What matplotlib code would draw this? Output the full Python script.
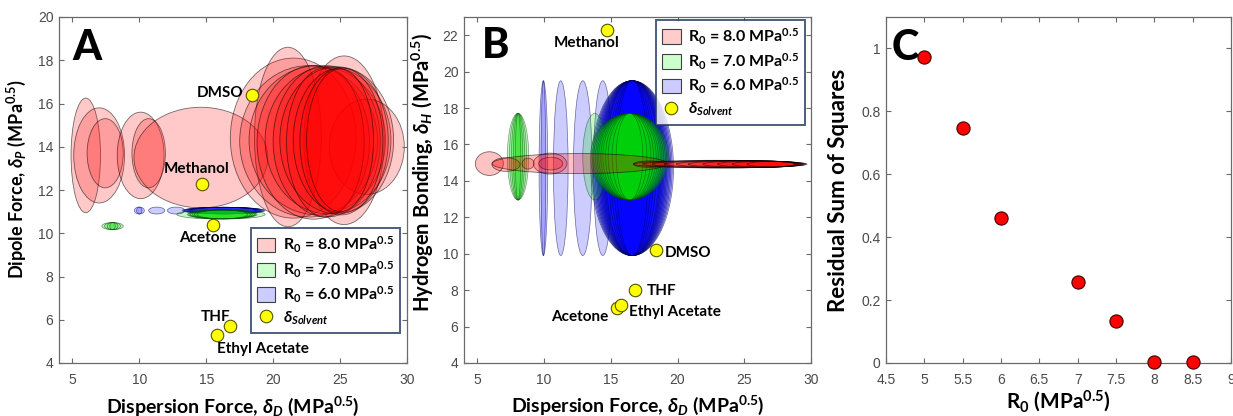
import matplotlib
matplotlib.use("Agg")
import matplotlib.pyplot as plt
from matplotlib.patches import Ellipse, Patch
from matplotlib.lines import Line2D
from matplotlib.ticker import FuncFormatter

plt.rcParams['font.family'] = ['Lato', 'DejaVu Sans']
plt.rcParams['mathtext.fontset'] = 'custom'
plt.rcParams['mathtext.rm'] = 'Lato:bold'
plt.rcParams['mathtext.bf'] = 'Lato:bold'
plt.rcParams['mathtext.it'] = 'Lato:bold:italic'

# ---------------- data ----------------
solvents = ['Methanol', 'DMSO', 'Acetone', 'THF', 'Ethyl Acetate']
sol_dD = [14.7, 18.4, 15.5, 16.8, 15.8]
sol_dP = [12.3, 16.4, 10.4, 5.7, 5.3]
sol_dH = [22.3, 10.2, 7.0, 8.0, 7.2]

# Panel A ellipses (center dD, center dP, width, height)
A_red_x = [6.0, 7.0, 7.45, 10.1, 10.7, 14.6, 21.5, 21.1, 25.3, 27.0,
           22.65, 23.3, 23.0, 24.1, 24.0, 24.75, 23.9, 25.05, 25.1, 25.0]
A_red_y = [13.6, 13.6, 13.7, 13.6, 13.7, 13.5, 14.4, 14.45, 14.3, 14.0,
           14.25, 14.3, 14.2, 14.3, 14.25, 14.3, 14.2, 14.3, 14.25, 14.3]
A_red_w = [2.2, 3.8, 2.7, 3.5, 2.5, 10.0, 9.4, 5.0, 6.0, 5.6,
           10.3, 10.2, 8.4, 9.4, 8.0, 8.5, 5.8, 7.1, 6.2, 5.0]
A_red_h = [5.3, 4.4, 3.2, 4.0, 3.2, 4.65, 7.4, 8.3, 7.8, 4.4,
           7.0, 6.9, 7.1, 6.8, 7.0, 6.8, 6.9, 6.7, 6.8, 6.6]

A_grn_x = [8.0, 8.0, 8.0, 8.0, 16.1, 16.2, 16.2, 16.2, 16.2, 16.2, 16.2]
A_grn_y = [10.33, 10.33, 10.33, 10.33, 10.87, 10.87, 10.87, 10.87, 10.87, 10.87, 10.87]
A_grn_w = [1.6, 1.2, 0.8, 0.4, 6.6, 5.2, 5.0, 4.8, 4.5, 4.2, 3.8]
A_grn_h = [0.33, 0.33, 0.33, 0.33, 0.43, 0.4, 0.4, 0.4, 0.4, 0.4, 0.4]

A_blu_x = [10.0, 10.0, 11.3, 12.75, 16.3, 16.3, 16.3, 16.3, 16.3, 16.3, 16.3, 16.3]
A_blu_y = [11.05, 11.05, 11.05, 11.05, 11.05, 11.05, 11.05, 11.05, 11.05, 11.05, 11.05, 11.05]
A_blu_w = [0.75, 0.4, 1.2, 1.3, 6.2, 6.0, 5.8, 5.6, 5.4, 5.2, 5.0, 4.8]
A_blu_h = [0.32, 0.32, 0.32, 0.32, 0.3, 0.3, 0.3, 0.3, 0.3, 0.3, 0.3, 0.3]

# Panel B ellipses (center dD, center dH, width, height)
B_red_x = [5.9, 7.15, 8.8, 10.45, 10.5, 12.65, 17.9, 23.2, 23.5, 23.8, 24.2, 24.6, 25.0, 25.5, 26.0, 26.5, 27.0]
B_red_y = [14.95, 14.9, 14.95, 14.95, 14.95, 14.95, 14.92, 14.92, 14.92, 14.92, 14.92, 14.92, 14.92, 14.92, 14.92, 14.92, 14.92]
B_red_w = [2.1, 2.1, 0.9, 2.5, 1.8, 13.1, 2.4, 13.0, 12.2, 11.4, 10.4, 9.4, 8.4, 7.2, 6.0, 4.8, 3.6]
B_red_h = [1.3, 0.75, 0.6, 1.15, 0.7, 1.1, 0.35, 0.42, 0.4, 0.4, 0.38, 0.38, 0.36, 0.36, 0.34, 0.32, 0.3]

B_grn_x = [8.05, 8.05, 8.05, 8.05, 8.05, 13.8, 16.4, 16.4, 16.4, 16.4, 16.4, 16.4, 16.4, 16.4, 16.4, 16.4, 16.4, 16.4]
B_grn_y = [15.33, 15.33, 15.33, 15.33, 15.33, 15.33, 15.33, 15.33, 15.33, 15.33, 15.33, 15.33, 15.33, 15.33, 15.33, 15.33, 15.33, 15.33]
B_grn_w = [1.6, 1.3, 1.0, 0.7, 0.4, 1.8, 5.85, 5.6, 5.35, 5.1, 4.85, 4.6, 4.3, 4.0, 3.6, 3.2, 2.6, 2.0]
B_grn_h = [4.75, 4.75, 4.75, 4.75, 4.75, 4.75, 4.75, 4.75, 4.75, 4.75, 4.75, 4.75, 4.75, 4.75, 4.75, 4.75, 4.75, 4.75]

B_blu_x = [9.95, 9.95, 11.25, 12.9, 14.4, 16.6, 16.6, 16.6, 16.6, 16.6, 16.6, 16.6, 16.6, 16.6, 16.6, 16.6, 16.6, 16.6, 16.6, 16.6, 16.6]
B_blu_y = [14.7] * 21
B_blu_w = [0.65, 0.35, 1.1, 1.4, 1.4, 6.2, 6.0, 5.8, 5.6, 5.4, 5.2, 5.0, 4.8, 4.6, 4.4, 4.2, 4.0, 3.6, 3.2, 2.8, 2.4]
B_blu_h = [9.6] * 21

# Panel C
R0 = [5.0, 5.5, 6.0, 7.0, 7.5, 8.0, 8.5]
RSS = [0.972, 0.748, 0.460, 0.258, 0.132, 0.003, 0.002]

legend_labels = [r'R$_0$ = 8.0 MPa$^{0.5}$', r'R$_0$ = 7.0 MPa$^{0.5}$',
                 r'R$_0$ = 6.0 MPa$^{0.5}$', r'$\delta_{Solvent}$']

# ---------------- drawing ----------------
W, H = 1233, 416
fig = plt.figure(figsize=(W / 100, H / 100), dpi=100)

axA = fig.add_axes([59 / W, 1 - 363 / H, 348 / W, 346 / H])
axB = fig.add_axes([464 / W, 1 - 363 / H, 347 / W, 346 / H])
axC = fig.add_axes([886 / W, 1 - 363 / H, 345 / W, 346 / H])

TICKC = '#4a4a4a'
SPINEC = '#6a6a6a'


def style_axes(ax):
    for s in ax.spines.values():
        s.set_color(SPINEC)
        s.set_linewidth(0.9)
    ax.tick_params(direction='in', top=True, right=True, length=3.5, width=0.8,
                   color=SPINEC, labelcolor=TICKC, labelsize=10)
    ax.tick_params(axis='x', pad=7)
    ax.tick_params(axis='y', pad=4)
    for lab in ax.get_xticklabels() + ax.get_yticklabels():
        lab.set_family(['Liberation Sans', 'DejaVu Sans'])


def draw_ellipses(ax, xs, ys, ws, hs, color, alpha, ec=(0, 0, 0, 0.55), lw=0.6):
    rgb = matplotlib.colors.to_rgb(color)
    for x, y, w, h in zip(xs, ys, ws, hs):
        ax.add_patch(Ellipse((x, y), w, h, facecolor=(*rgb, alpha), edgecolor=ec, linewidth=lw))


fmt = FuncFormatter(lambda v, p: f'{v:g}')

# Panel A
draw_ellipses(axA, A_red_x, A_red_y, A_red_w, A_red_h, 'red', 0.21)
draw_ellipses(axA, A_blu_x, A_blu_y, A_blu_w, A_blu_h, 'blue', 0.2, ec=(0, 0, 0.4, 0.6), lw=0.5)
draw_ellipses(axA, A_grn_x, A_grn_y, A_grn_w, A_grn_h, '#00dd00', 0.22, ec=(0, 0.25, 0, 0.6), lw=0.5)
axA.plot(sol_dD, sol_dP, 'o', ms=9, mfc='#ffff00', mec='#555500', mew=0.8, zorder=5)
axA.set_xlim(4, 30)
axA.set_ylim(4, 20)
axA.set_xticks([5, 10, 15, 20, 25, 30])
axA.set_yticks(range(4, 21, 2))

labA = {'Methanol': (14.25, 12.95, 'center'), 'DMSO': (17.8, 16.5, 'right'),
        'Acetone': (15.1, 9.77, 'center'), 'THF': (15.7, 6.15, 'center'),
        'Ethyl Acetate': (19.2, 4.67, 'center')}
for name in solvents:
    x, y, ha = labA[name]
    axA.text(x, y, name, ha=ha, va='center', fontsize=11, fontweight='bold', zorder=6)

# Panel B
draw_ellipses(axB, B_blu_x, B_blu_y, B_blu_w, B_blu_h, 'blue', 0.2, ec=(0, 0, 0.35, 0.55), lw=0.5)
draw_ellipses(axB, B_grn_x, B_grn_y, B_grn_w, B_grn_h, '#00dd00', 0.22, ec=(0, 0.25, 0, 0.5), lw=0.5)
draw_ellipses(axB, B_red_x, B_red_y, B_red_w, B_red_h, 'red', 0.24)
axB.plot(sol_dD, sol_dH, 'o', ms=9, mfc='#ffff00', mec='#555500', mew=0.8, zorder=5)
axB.set_xlim(4, 30)
axB.set_ylim(4, 23)
axB.set_xticks([5, 10, 15, 20, 25, 30])
axB.set_yticks(range(4, 23, 2))

labB = {'Methanol': (13.16, 21.56, 'center'), 'DMSO': (19.07, 10.03, 'left'),
        'Acetone': (12.7, 6.52, 'center'), 'THF': (17.7, 7.95, 'left'),
        'Ethyl Acetate': (16.4, 6.8, 'left')}
for name in solvents:
    x, y, ha = labB[name]
    axB.text(x, y, name, ha=ha, va='center', fontsize=11, fontweight='bold', zorder=6)

# Panel C
axC.plot(R0, RSS, 'o', ms=9.5, mfc='#ff0000', mec='#400000', mew=0.8, zorder=5, clip_on=False)
axC.set_xlim(4.5, 9)
axC.set_ylim(0, 1.1)
axC.set_xticks([4.5, 5, 5.5, 6, 6.5, 7, 7.5, 8, 8.5, 9])
axC.set_yticks([0, 0.2, 0.4, 0.6, 0.8, 1])
axC.xaxis.set_major_formatter(fmt)
axC.yaxis.set_major_formatter(fmt)

for ax in (axA, axB, axC):
    style_axes(ax)

# legends
handles = [Patch(facecolor='#ffcccc', edgecolor='#404040', linewidth=0.8),
           Patch(facecolor='#ccffcc', edgecolor='#404040', linewidth=0.8),
           Patch(facecolor='#ccccff', edgecolor='#404040', linewidth=0.8),
           Line2D([], [], marker='o', ls='none', ms=9, mfc='#ffff00', mec='#555500', mew=0.8)]
for ax, loc, anchor in ((axA, 'lower right', (0.98, 0.087)), (axB, 'upper right', (0.983, 0.991))):
    leg = ax.legend(handles, legend_labels, loc=loc, bbox_to_anchor=anchor,
                    prop={'family': ['Lato', 'DejaVu Sans'], 'weight': 'bold', 'size': 11.5},
                    frameon=True, fancybox=False, handlelength=1.15, handleheight=1.0,
                    handletextpad=0.45, labelspacing=0.28, borderpad=0.4, borderaxespad=0)
    leg.get_frame().set_edgecolor('#1f3560')
    leg.get_frame().set_linewidth(1.4)
    leg.set_zorder(10)

# axis labels
axA.set_xlabel(r'Dispersion Force, $\delta_D$ (MPa$^{0.5}$)', fontsize=14, fontweight='bold')
axA.set_ylabel(r'Dipole Force, $\delta_P$ (MPa$^{0.5}$)', fontsize=13, fontweight='bold')
axB.set_xlabel(r'Dispersion Force, $\delta_D$ (MPa$^{0.5}$)', fontsize=14, fontweight='bold')
axB.set_ylabel(r'Hydrogen Bonding, $\delta_H$ (MPa$^{0.5}$)', fontsize=14.5, fontweight='bold')
axC.set_xlabel(r'R$_0$ (MPa$^{0.5}$)', fontsize=15, fontweight='bold')
axC.set_ylabel('Residual Sum of Squares', fontsize=16, fontweight='bold')
axA.xaxis.set_label_coords(0.5, -0.092)
axB.xaxis.set_label_coords(0.5, -0.088)
axC.xaxis.set_label_coords(0.5, -0.072)
axA.yaxis.set_label_coords(-0.088, 0.53)
axB.yaxis.set_label_coords(-0.08, 0.55)
axC.yaxis.set_label_coords(-0.108, 0.5)

# panel letters
axA.text(0.037, 0.876, 'A', transform=axA.transAxes, fontsize=30, fontweight='black', va='baseline', zorder=7)
axB.text(0.052, 0.882, 'B', transform=axB.transAxes, fontsize=30, fontweight='black', va='baseline', zorder=7)
axC.text(0.017, 0.876, 'C', transform=axC.transAxes, fontsize=30, fontweight='black', va='baseline', zorder=4)

fig.savefig('out.png', dpi=100)
